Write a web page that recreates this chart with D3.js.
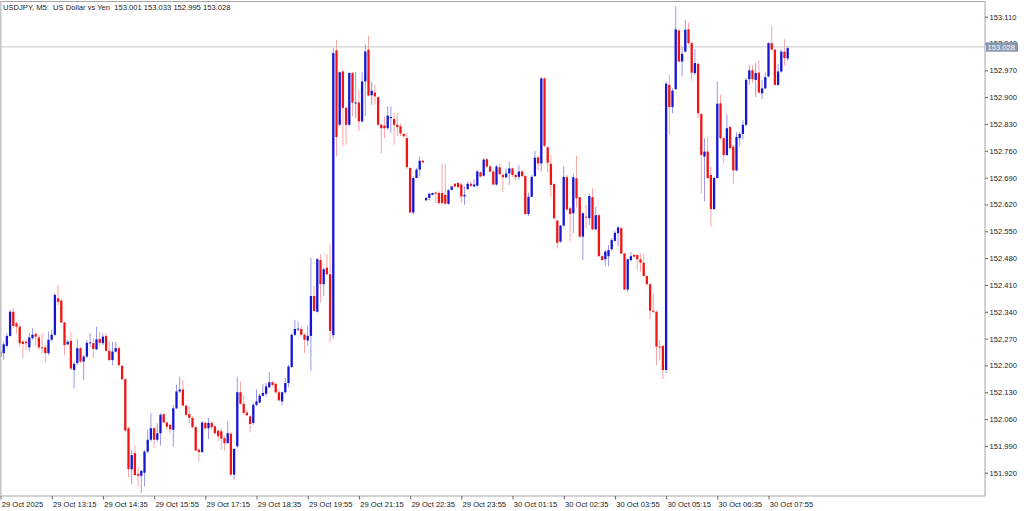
<!DOCTYPE html>
<html><head><meta charset="utf-8">
<script src="https://cdn.jsdelivr.net/npm/d3@7/dist/d3.min.js"></script>
<style>
html,body{margin:0;padding:0;background:#fff;}
svg{display:block;}
text{font-family:"Liberation Sans",Arial,sans-serif;}
</style></head>
<body><svg id="c" width="1024" height="511"></svg>
<script>
const title = "USDJPY, M5:  US Dollar vs Yen  153.001 153.033 152.995 153.028";
const lastPrice = 153.028;
const yTickLabels = ["151.920","151.990","152.060","152.130","152.200","152.270","152.340","152.410","152.480","152.550","152.620","152.690","152.760","152.830","152.900","152.970","153.040","153.110"];
const xTickBars = [0,16,32,48,64,80,96,112,128,144,160,176,192,208,224,240];
const xTickLabels = ["29 Oct 2025","29 Oct 13:15","29 Oct 14:35","29 Oct 15:55","29 Oct 17:15","29 Oct 18:35","29 Oct 19:55","29 Oct 21:15","29 Oct 22:35","29 Oct 23:55","30 Oct 01:15","30 Oct 02:35","30 Oct 03:55","30 Oct 05:15","30 Oct 06:35","30 Oct 07:55"];

const open = [
152.223,152.232,152.251,152.277,152.340,152.310,152.301,152.262,152.262,152.247,
152.271,152.282,152.273,152.247,152.247,152.232,152.267,152.280,152.375,152.369,
152.312,152.255,152.264,152.188,152.206,152.245,152.210,152.223,152.258,152.258,
152.242,152.269,152.258,152.277,152.238,152.214,152.236,152.245,152.199,152.164,
152.036,151.929,151.971,151.917,151.912,151.920,151.975,152.006,152.036,152.006,
152.023,152.073,152.051,152.045,152.032,152.088,152.132,152.137,152.095,152.073,
152.063,152.039,151.980,151.974,152.050,152.036,152.050,152.041,152.030,152.028,
152.010,151.997,152.022,151.915,151.989,152.130,152.100,152.077,152.067,152.050,
152.097,152.103,152.121,152.126,152.143,152.156,152.152,152.130,152.106,152.130,
152.154,152.196,152.280,152.294,152.295,152.280,152.265,152.277,152.381,152.340,
152.475,152.412,152.455,152.438,152.279,153.022,152.828,152.967,152.872,152.828,
152.963,152.884,152.886,152.837,152.941,153.024,152.905,152.912,152.900,152.828,
152.826,152.819,152.845,152.843,152.828,152.824,152.804,152.793,152.715,152.599,
152.689,152.711,152.734,152.631,152.637,152.645,152.651,152.650,152.650,152.645,
152.622,152.658,152.674,152.676,152.672,152.641,152.660,152.674,152.667,152.669,
152.704,152.695,152.738,152.719,152.706,152.672,152.717,152.697,152.691,152.701,
152.714,152.697,152.692,152.706,152.694,152.595,152.640,152.694,152.743,152.727,
152.949,152.769,152.726,152.673,152.578,152.523,152.565,152.691,152.610,152.597,
152.688,152.639,152.536,152.588,152.584,152.639,152.555,152.592,152.485,152.477,
152.485,152.503,152.525,152.545,152.558,152.492,152.398,152.475,152.488,152.488,
152.477,152.468,152.433,152.412,152.343,152.340,152.249,152.251,152.188,152.932,
152.874,152.921,153.074,152.993,153.019,153.077,153.041,152.963,152.987,152.856,
152.745,152.758,152.697,152.608,152.689,152.884,152.793,152.749,152.822,152.771,
152.709,152.793,152.804,152.828,152.947,152.970,152.945,152.964,152.910,152.923,
152.954,153.041,153.024,152.932,152.967,153.019,153.001];

const high = [
152.240,152.262,152.284,152.345,152.349,152.314,152.306,152.266,152.268,152.284,
152.297,152.288,152.280,152.284,152.253,152.288,152.293,152.388,152.410,152.375,
152.314,152.266,152.288,152.210,152.268,152.249,152.227,152.266,152.284,152.271,
152.301,152.288,152.284,152.284,152.262,152.262,152.262,152.249,152.201,152.166,
152.040,151.979,151.992,151.935,151.927,151.979,152.032,152.075,152.040,152.049,
152.075,152.075,152.053,152.049,152.097,152.150,152.171,152.163,152.097,152.093,
152.067,152.041,151.984,152.054,152.054,152.063,152.054,152.045,152.032,152.036,
152.015,152.054,152.025,151.984,152.171,152.158,152.123,152.084,152.071,152.103,
152.138,152.126,152.152,152.154,152.182,152.159,152.154,152.137,152.132,152.167,
152.202,152.284,152.319,152.315,152.304,152.284,152.304,152.481,152.408,152.481,
152.490,152.455,152.490,152.516,153.028,153.050,152.967,152.972,152.876,152.965,
152.965,152.965,152.919,152.965,153.037,153.060,152.941,152.932,152.902,152.830,
152.850,152.876,152.876,152.859,152.859,152.832,152.806,152.808,152.719,152.693,
152.715,152.745,152.737,152.639,152.651,152.651,152.654,152.654,152.726,152.726,
152.660,152.669,152.676,152.678,152.676,152.667,152.680,152.680,152.686,152.711,
152.706,152.741,152.741,152.724,152.711,152.724,152.726,152.699,152.714,152.732,
152.717,152.701,152.723,152.712,152.697,152.651,152.697,152.760,152.745,152.952,
152.952,152.773,152.749,152.675,152.579,152.566,152.720,152.697,152.614,152.701,
152.746,152.640,152.599,152.619,152.649,152.662,152.614,152.595,152.488,152.501,
152.514,152.532,152.552,152.564,152.562,152.494,152.479,152.496,152.492,152.491,
152.492,152.492,152.436,152.414,152.388,152.343,152.266,152.253,152.941,152.958,
152.923,153.137,153.077,153.032,153.102,153.095,153.045,153.025,152.989,152.858,
152.793,152.797,152.719,152.693,152.941,152.906,152.797,152.856,152.825,152.775,
152.808,152.810,152.841,152.950,152.984,152.984,152.989,152.995,152.945,152.964,
153.043,153.086,153.025,152.987,153.024,153.051,153.033];

const low = [
152.207,152.214,152.247,152.275,152.297,152.284,152.247,152.219,152.240,152.236,
152.267,152.251,152.242,152.232,152.207,152.227,152.262,152.277,152.358,152.310,
152.227,152.253,152.188,152.140,152.201,152.206,152.162,152.219,152.249,152.219,
152.240,152.253,152.253,152.236,152.212,152.201,152.234,152.195,152.162,152.027,
151.908,151.891,151.912,151.884,151.868,151.884,151.971,152.001,151.984,152.001,
151.991,152.049,152.032,152.023,151.988,152.086,152.128,152.093,152.067,152.050,
152.036,151.976,151.949,151.971,152.032,152.008,152.032,152.019,152.002,151.980,
151.978,151.996,151.912,151.902,151.984,152.097,152.071,152.067,152.025,152.045,
152.093,152.102,152.119,152.119,152.141,152.145,152.126,152.106,152.095,152.126,
152.143,152.193,152.276,152.289,152.276,152.232,152.251,152.186,152.340,152.338,
152.364,152.381,152.434,152.260,152.270,152.745,152.824,152.773,152.776,152.824,
152.850,152.845,152.811,152.832,152.850,152.902,152.880,152.880,152.824,152.754,
152.793,152.815,152.806,152.776,152.798,152.798,152.793,152.712,152.598,152.593,
152.689,152.693,152.728,152.628,152.631,152.644,152.624,152.619,152.619,152.619,
152.619,152.657,152.665,152.663,152.624,152.619,152.658,152.665,152.665,152.667,
152.691,152.693,152.715,152.702,152.672,152.669,152.697,152.653,152.688,152.671,
152.692,152.682,152.684,152.692,152.592,152.590,152.639,152.692,152.710,152.706,
152.769,152.703,152.640,152.581,152.505,152.520,152.562,152.604,152.523,152.545,
152.612,152.532,152.475,152.558,152.566,152.553,152.553,152.484,152.473,152.459,
152.459,152.499,152.523,152.510,152.491,152.397,152.392,152.471,152.482,152.449,
152.445,152.432,152.410,152.320,152.336,152.201,152.214,152.164,152.180,152.802,
152.858,152.919,152.990,152.956,153.017,153.037,152.943,152.958,152.845,152.649,
152.628,152.686,152.562,152.606,152.687,152.789,152.728,152.747,152.764,152.674,
152.706,152.771,152.789,152.823,152.932,152.937,152.900,152.910,152.895,152.921,
152.952,153.022,152.930,152.930,152.964,152.982,152.995];

const close = [
152.236,152.255,152.277,152.340,152.303,152.301,152.258,152.256,152.258,152.273,
152.280,152.275,152.247,152.246,152.232,152.267,152.280,152.384,152.366,152.312,
152.253,152.262,152.192,152.204,152.245,152.210,152.223,152.259,152.260,152.243,
152.268,152.259,152.275,152.238,152.214,152.236,152.245,152.201,152.164,152.030,
151.929,151.966,151.914,151.912,151.925,151.975,152.006,152.036,152.006,152.023,
152.071,152.051,152.040,152.033,152.088,152.132,152.137,152.095,152.071,152.063,
152.039,151.978,151.974,152.051,152.036,152.050,152.039,152.023,152.015,152.009,
151.997,152.023,151.915,151.982,152.130,152.100,152.076,152.070,152.047,152.097,
152.106,152.121,152.128,152.145,152.156,152.149,152.130,152.109,152.130,152.154,
152.197,152.280,152.295,152.296,152.280,152.267,152.277,152.381,152.342,152.477,
152.412,152.451,152.438,152.290,153.015,152.796,152.965,152.872,152.828,152.963,
152.886,152.886,152.837,152.941,153.019,152.904,152.917,152.902,152.828,152.819,
152.819,152.852,152.848,152.828,152.822,152.805,152.798,152.718,152.599,152.689,
152.711,152.734,152.730,152.637,152.648,152.650,152.648,152.624,152.624,152.622,
152.657,152.667,152.667,152.665,152.641,152.645,152.674,152.669,152.672,152.706,
152.693,152.737,152.719,152.706,152.672,152.719,152.699,152.691,152.701,152.714,
152.697,152.691,152.706,152.694,152.595,152.640,152.692,152.742,152.727,152.949,
152.773,152.729,152.671,152.584,152.520,152.565,152.692,152.607,152.595,152.691,
152.636,152.536,152.597,152.587,152.642,152.555,152.592,152.485,152.475,152.497,
152.501,152.527,152.546,152.560,152.492,152.398,152.477,152.485,152.484,152.477,
152.468,152.433,152.412,152.343,152.340,152.249,152.247,152.188,152.935,152.874,
152.917,153.077,152.993,153.013,153.076,153.041,152.964,152.989,152.858,152.749,
152.758,152.689,152.608,152.689,152.883,152.793,152.749,152.819,152.767,152.709,
152.796,152.804,152.828,152.945,152.970,152.947,152.963,152.912,152.923,152.952,
153.041,153.024,152.932,152.967,153.019,153.002,153.028];

const svg = d3.select("#c");
const W = 1024, H = 511;
const plotRight = 985, plotTop = 1.5, plotBottom = 496;

svg.append("rect").attr("width", W).attr("height", H).attr("fill", "#fff");

const yVals = yTickLabels.map(Number);
const y = d3.scaleLinear().domain([151.920, 153.110]).range([472.7, 16.7]);
const x = d3.scaleLinear().domain([0, 246]).range([0.5, 787.7]);

const bars = open.map((o, i) => ({i, o, h: high[i], l: low[i], c: close[i]}));

// current price line
svg.append("line")
  .attr("x1", 0).attr("x2", plotRight)
  .attr("y1", y(lastPrice) - 1.2).attr("y2", y(lastPrice) - 1.2)
  .attr("stroke", "#c8c8c8").attr("stroke-width", 1);

const g = svg.append("g");
const upBody = "#1515d6", dnBody = "#f01515";
const upWick = "#9a9ae8", dnWick = "#f8a6a6";

g.selectAll("line.wick").data(bars).join("line")
  .attr("class", "wick")
  .attr("x1", d => x(d.i)).attr("x2", d => x(d.i))
  .attr("y1", d => y(d.h)).attr("y2", d => y(d.l))
  .attr("stroke", d => d.c >= d.o ? upWick : dnWick)
  .attr("stroke-width", 1);

g.selectAll("rect.body").data(bars).join("rect")
  .attr("class", "body")
  .attr("x", d => x(d.i) - 1.15)
  .attr("width", 2.3)
  .attr("y", d => y(Math.max(d.o, d.c)))
  .attr("height", d => Math.max(0.9, Math.abs(y(d.o) - y(d.c))))
  .attr("fill", d => d.c >= d.o ? upBody : dnBody);

// frame
svg.append("path")
  .attr("d", `M0.5,${plotTop} H${plotRight} V${plotBottom} H0.5 Z`)
  .attr("fill", "none").attr("stroke", "#a6a6a6").attr("stroke-width", 1);
svg.append("rect").attr("x", 0).attr("y", plotTop).attr("width", 1.5).attr("height", plotBottom - plotTop).attr("fill", "#c4c4c4");

// y axis (right)
const yAxis = d3.axisRight(y).tickValues(yVals).tickFormat((d, k) => yTickLabels[k]).tickSize(3).tickPadding(1.5);
const ya = svg.append("g").attr("transform", `translate(${plotRight},0)`).call(yAxis);
ya.select(".domain").remove();
ya.selectAll("line").attr("stroke", "#666");
ya.selectAll("text").attr("font-size", "7.6px").attr("fill", "#222").attr("font-family", "Liberation Sans, Arial, sans-serif");

// current price tag
const tagY = y(lastPrice) - 1.2;
svg.append("rect").attr("x", plotRight + 1).attr("y", tagY - 4.6).attr("width", 32).attr("height", 9.4).attr("fill", "#8799b2");
svg.append("text").attr("x", plotRight + 2.5).attr("y", tagY + 2.8)
  .attr("font-size", "7.6px").attr("fill", "#fff").text(d3.format(".3f")(lastPrice));

// x axis
const xAxis = d3.axisBottom(x).tickValues(xTickBars).tickFormat((d, k) => xTickLabels[k]).tickSize(3.5).tickPadding(2.5);
const xa = svg.append("g").attr("transform", `translate(0,${plotBottom})`).call(xAxis);
xa.select(".domain").remove();
xa.selectAll("line").attr("stroke", "#666");
xa.selectAll("text").attr("text-anchor", "start").attr("dx", "0.8")
  .attr("font-size", "7.6px").attr("fill", "#222").attr("font-family", "Liberation Sans, Arial, sans-serif");

// title
svg.append("text").attr("x", 3).attr("y", 9.5).attr("font-size", "7.6px").attr("fill", "#222")
  .attr("xml:space", "preserve").style("white-space", "pre").text(title);
</script></body></html>
